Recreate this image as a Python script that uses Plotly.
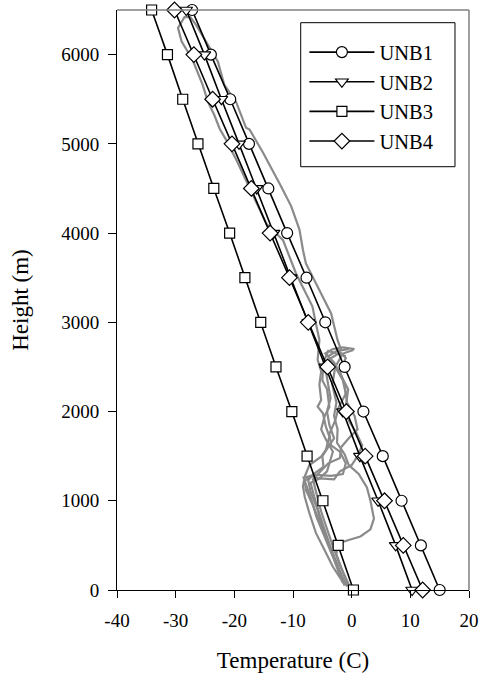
import plotly.graph_objects as go

heights = [0, 500, 1000, 1500, 2000, 2500, 3000, 3500, 4000, 4500, 5000, 5500, 6000, 6500]
unb1 = [15.0, 11.8, 8.5, 5.3, 2.0, -1.2, -4.5, -7.7, -11.0, -14.2, -17.5, -20.7, -24.0, -27.2]
unb2 = [10.3, 7.5, 4.5, 1.4, -1.5, -4.5, -7.4, -10.4, -13.3, -16.2, -19.2, -22.2, -25.1, -28.2]
unb3 = [0.3, -2.3, -4.9, -7.6, -10.2, -12.9, -15.5, -18.2, -20.8, -23.5, -26.2, -28.8, -31.4, -34.1]
unb4 = [12.1, 8.8, 5.6, 2.3, -0.9, -4.1, -7.4, -10.6, -13.9, -17.1, -20.4, -23.7, -26.9, -30.2]

x_ticks = [-40, -30, -20, -10, 0, 10, 20]
y_ticks = [0, 1000, 2000, 3000, 4000, 5000, 6000]

sonde_t = [
    [-1.8, -2.4, -3.5, -5.5, -7.8, -8.3, -8.9, -10.3, -12.0, -15.1, -17.4, -18.0, -19.1, -19.7,
     -21.7, -22.8, -24.5, -26.5, -27.5, -28.5, -29.6, -29.0, -27.1, -25.4, -24.5, -23.4, -22.5,
     -21.4, -19.5, -17.0, -14.5, -11.7, -9.5, -6.7, -5.5, -5.8, -5.2, -5.5, -5.2, -5.8, -4.9,
     -4.4, -3.8, -4.4, -5.2, -7.2, -8.0, -8.3, -8.0, -7.2, -6.1, -4.9, -3.2, -2.1, -1.2],
    [-0.5, -1.5, -2.6, -2.4, -0.5, 1.5, 3.2, 3.8, 3.2, 2.6, 1.2, -0.5, -1.2, -2.5, -2.4, -3.0,
     -2.6, -3.3, -2.8, -1.5, 0.3],
    [-0.8, -2.0, -3.5, -4.8, -6.0, -6.8, -7.6, -8.2, -6.0, -3.5, -1.5, -1.0, -2.0, -3.5, -3.8,
     -2.8, -2.2, -1.0, -1.5, -2.8, -4.0, -2.5, -0.5],
    [-1.0, -2.3, -3.3, -4.5, -5.5, -6.4, -7.0, -5.5, -3.0, -2.0, 0.0, 1.0, 1.8, 0.8, -0.5, -1.0,
     -0.6, -1.8, -3.0, -4.5, -3.2, -1.5, 0.5],
    [-1.5, -2.8, -3.8, -5.0, -5.8, -7.0, -7.4, -6.5, -4.8, -5.0, -4.0, -3.0, -3.8, -4.2, -3.6,
     -4.0, -4.4, -3.5, -2.2, -1.0],
    [-0.3, -1.8, -3.0, -4.2, -5.2, -6.0, -6.6, -4.0, -2.0, -1.8, -0.5, 1.0, 0.5, -0.8, -1.2,
     -2.0, -1.0, -2.5],
    [-1.2, -2.5, -4.2, -5.6, -6.6, -7.8, -8.0, -7.0, -5.5, -4.2, -3.2, -4.5, -5.2, -4.6, -3.8,
     -4.2, -5.0, -4.8, -4.0, -2.5],
]
sonde_h = [
    [2690, 2800, 3100, 3360, 3660, 3810, 4040, 4300, 4520, 4900, 5160, 5180, 5360, 5470,
     5660, 5920, 6110, 6330, 6420, 6420, 6300, 6150, 5940, 5660, 5470, 5320, 5170,
     5045, 4800, 4450, 4100, 3920, 3550, 3180, 2800, 2580, 2450, 2300, 2130, 2055, 1980,
     1830, 1720, 1570, 1495, 1400, 1270, 1160, 1045, 860, 640, 485, 260, 150, 60],
    [40, 200, 400, 520, 560, 600, 680, 800, 1000, 1150, 1300, 1400, 1520, 1650, 1800, 1950,
     2100, 2300, 2500, 2650, 2690],
    [40, 200, 420, 620, 820, 1000, 1150, 1260, 1290, 1280, 1300, 1420, 1550, 1620, 1750,
     1900, 2050, 2200, 2350, 2500, 2620, 2680, 2700],
    [60, 250, 420, 650, 850, 1050, 1200, 1250, 1240, 1330, 1400, 1500, 1620, 1760, 1900, 2050,
     2250, 2400, 2550, 2650, 2700, 2720, 2700],
    [80, 300, 500, 700, 900, 1100, 1230, 1300, 1380, 1500, 1600, 1700, 1850, 2000, 2150,
     2300, 2450, 2600, 2650, 2620],
    [30, 250, 450, 680, 880, 1080, 1240, 1420, 1480, 1600, 1700, 1800, 1950, 2100, 2300,
     2450, 2600, 2700],
    [50, 300, 550, 780, 950, 1120, 1220, 1280, 1250, 1330, 1550, 1700, 1800, 1950, 2050,
     2250, 2350, 2550, 2680, 2650],
]

fig = go.Figure()

for t, h in zip(sonde_t, sonde_h):
    fig.add_trace(go.Scatter(x=t, y=h, mode="lines", showlegend=False,
                             line=dict(color="#8a8a8a", width=2.2), hoverinfo="skip"))

series = [
    ("UNB1", unb1, "circle", 11),
    ("UNB2", unb2, "triangle-down", 11),
    ("UNB3", unb3, "square", 10),
    ("UNB4", unb4, "diamond", 12),
]
for name, vals, sym, sz in series:
    fig.add_trace(go.Scatter(
        x=vals, y=heights, mode="lines+markers", name=name, cliponaxis=False,
        line=dict(color="black", width=1.6),
        marker=dict(symbol=sym, size=sz, color="white", line=dict(color="black", width=1.2)),
    ))

font = "Liberation Serif, Times New Roman, serif"
fig.update_layout(
    width=482, height=681,
    margin=dict(l=117, r=13, t=10, b=91),
    paper_bgcolor="white", plot_bgcolor="white",
    font=dict(family=font, size=19, color="black"),
    showlegend=True,
    legend=dict(x=0.5324, y=0.9616, xanchor="left", yanchor="top",
                bgcolor="rgba(0,0,0,0)", borderwidth=0,
                font=dict(size=20.5, family=font), itemwidth=65,
                tracegroupgap=0),
    xaxis=dict(range=[-40, 20], tickvals=x_ticks, ticktext=[str(v) for v in x_ticks],
               showgrid=False, zeroline=False, showline=True, linecolor="black", linewidth=1,
               ticks="outside", ticklen=7, tickcolor="black", ticklabelstandoff=6,
               automargin=False,
               title=dict(text="Temperature (C)", standoff=22)),
    yaxis=dict(range=[0, 6500], tickvals=y_ticks, ticktext=[str(v) for v in y_ticks],
               showgrid=False, zeroline=False, showline=True, linecolor="black", linewidth=1,
               ticks="outside", ticklen=8, tickcolor="black", ticklabelstandoff=5,
               automargin=False,
               title=dict(text="Height (m)", standoff=26)),
)
# grey top/right plot-area border
fig.add_shape(type="line", xref="paper", yref="paper", x0=0, x1=1, y0=1, y1=1,
              line=dict(color="#808080", width=1.5))
fig.add_shape(type="line", xref="paper", yref="paper", x0=1, x1=1, y0=0, y1=1,
              line=dict(color="#808080", width=1.5))
# legend frame (opaque white box behind the legend entries)
fig.add_shape(type="rect", xref="paper", yref="paper", x0=0.5219, x1=0.9602, y0=0.7298, y1=0.9781,
              fillcolor="white", line=dict(color="black", width=1), layer="above")

fig.write_html("out.html", config={"displayModeBar": False},
               post_script="document.body.style.margin='0';")
